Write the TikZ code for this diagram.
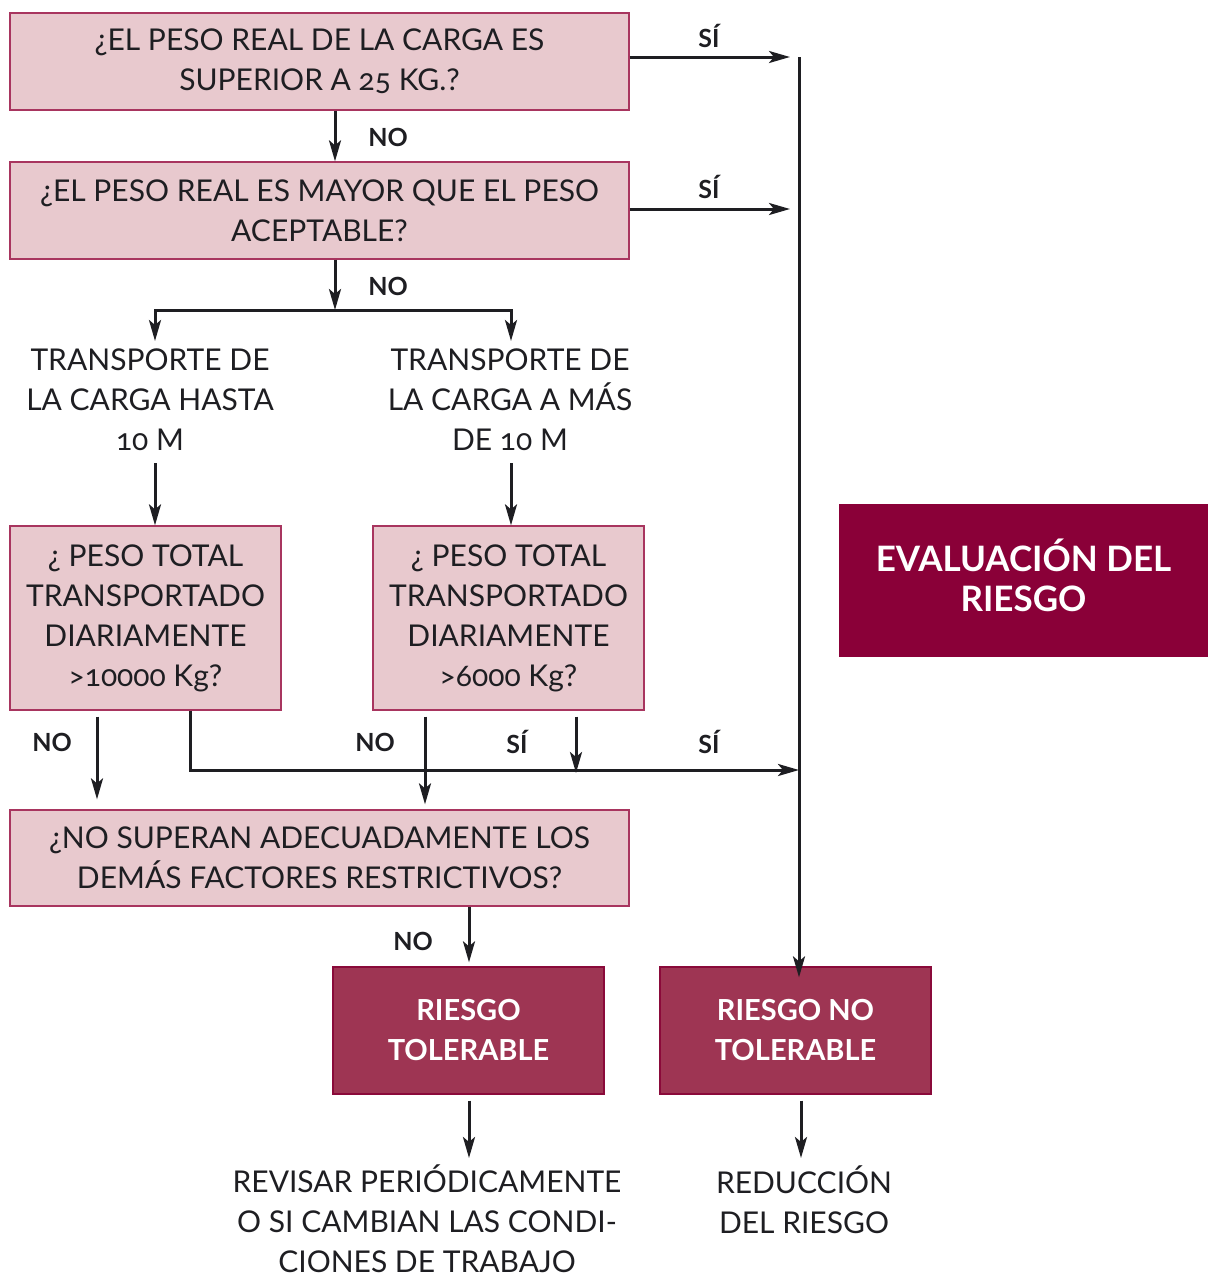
\documentclass[tikz,border=0pt]{standalone}
\usepackage{fontspec}
\setmainfont{Lato}[Numbers=OldStyle]
\usetikzlibrary{arrows.meta}
\definecolor{pinkfill}{HTML}{E8C9CE}
\definecolor{pinkline}{HTML}{A8355F}
\definecolor{darkfill}{HTML}{9E3553}
\definecolor{darkline}{HTML}{8A0A3A}
\definecolor{evalfill}{HTML}{8A0038}
\definecolor{ink}{HTML}{1E1E22}
\begin{document}
\begin{tikzpicture}[x=1pt,y=-1pt,
  qbox/.style={draw=pinkline, fill=pinkfill, line width=1.3pt, inner sep=0pt, align=center,
    text=ink, font=\fontsize{30}{40}\selectfont},
  rbox/.style={draw=darkline, fill=darkfill, line width=1.3pt, inner sep=0pt, align=center,
    text=white, font=\fontsize{29}{40}\selectfont\bfseries, minimum width=271pt, minimum height=127pt},
  plain/.style={inner sep=0pt, align=center, text=ink, font=\fontsize{30}{40}\selectfont},
  lbl/.style={inner sep=0pt, text=ink, font=\fontsize{25}{26}\selectfont\bfseries},
  arr/.style={draw=ink, line width=3pt, -{Stealth[length=21pt,width=12pt,inset=5pt]}},
  ln/.style={draw=ink, line width=3pt}]
\useasboundingbox (0,0) rectangle (1208,1278);

% boxes
\node[qbox, minimum width=619pt, minimum height=97pt] (b1) at (319.5,61.5) {¿EL PESO REAL DE LA CARGA ES\\SUPERIOR A 25 KG.?};
\node[qbox, minimum width=619pt, minimum height=97pt] (b2) at (319.5,210.5) {¿EL PESO REAL ES MAYOR QUE EL PESO\\ACEPTABLE?};
\node[plain] (t1) at (150,400) {TRANSPORTE DE\\LA CARGA HASTA\\10 M};
\node[plain] (t2) at (510,400) {TRANSPORTE DE\\LA CARGA A MÁS\\DE 10 M};
\node[qbox, minimum width=271pt, minimum height=184pt] (b3) at (145.5,618) {¿ PESO TOTAL\\TRANSPORTADO\\DIARIAMENTE\\>10000 Kg?};
\node[qbox, minimum width=271pt, minimum height=184pt] (b4) at (508.5,618) {¿ PESO TOTAL\\TRANSPORTADO\\DIARIAMENTE\\>6000 Kg?};
\node[qbox, minimum width=619pt, minimum height=96pt] (b5) at (319.5,858) {¿NO SUPERAN ADECUADAMENTE LOS\\DEMÁS FACTORES RESTRICTIVOS?};
\node[rbox] (b6) at (468.5,1030.5) {RIESGO\\TOLERABLE};
\node[rbox] (b7) at (795.5,1030.5) {RIESGO NO\\TOLERABLE};
\node[fill=evalfill, inner sep=0pt, minimum width=369pt, minimum height=153pt] (b8) at (1023.5,580.5) {};
\node[inner sep=0pt, align=center, text=white, font=\fontsize{35}{40}\selectfont\bfseries]
  (b8t) at ([yshift=5pt]b8.center) {EVALUACIÓN DEL\\RIESGO};
\node[plain] (t3) at (427,1218.5) {REVISAR PERIÓDICAMENTE\\O SI CAMBIAN LAS CONDI-\\CIONES DE TRABAJO};
\node[plain] (t4) at (804,1200) {REDUCCIÓN\\DEL RIESGO};

% labels
\node[lbl] (n1) at (388,137) {NO};
\node[lbl] (n2) at (388,286) {NO};
\node[lbl] (n3) at (52,742) {NO};
\node[lbl] (n4) at (375,742) {NO};
\node[lbl] (n5) at (413,941) {NO};
\node[lbl] (s1) at (709,36) {SÍ};
\node[lbl] (s2) at (709,187) {SÍ};
\node[lbl] (s3) at (517,742) {SÍ};
\node[lbl] (s4) at (709,742) {SÍ};

% coordinates
\coordinate (c1) at (335,0);
\coordinate (split) at (335,310);
\coordinate (sl) at (155,310);
\coordinate (sr) at (511,310);
\coordinate (tl) at (155,341);
\coordinate (tr) at (511,341);
\coordinate (ul) at (155,463);
\coordinate (ur) at (511,463);
\coordinate (vtop) at (799,57);
\coordinate (v2) at (799,209);
\coordinate (v3) at (799,770);
\coordinate (x97) at (97,0);
\coordinate (x190) at (190,0);
\coordinate (x425) at (425,0);
\coordinate (x576) at (576,0);
\coordinate (x469) at (469,0);
\coordinate (x801) at (801,0);
\coordinate (h576) at (576,773);
\coordinate (e6) at (469,1158);
\coordinate (e7) at (801,1158);

% connectors
\draw[arr] (b1.south -| c1) -- (b2.north -| c1);
\draw[arr] (b2.south -| c1) -- (split);
\draw[ln, line cap=rect] (sl) -- (sr);
\draw[arr] (sl) -- (tl);
\draw[arr] (sr) -- (tr);
\draw[arr] (b1.east |- vtop) -- ([xshift=-9pt]vtop);
\draw[arr] (b2.east |- v2) -- ([xshift=-9pt]v2);
\draw[arr] (vtop) -- ([yshift=-11pt]b7.north -| vtop);
\draw[arr] (ul) -- (b3.north -| ul);
\draw[arr] (ur) -- (b4.north -| ur);
\draw[arr, shorten <=6pt, shorten >=10pt] (b3.south -| x97) -- (b5.north -| x97);
\draw[arr] (b3.south -| x190) |- (v3);
\draw[arr, shorten <=6pt, shorten >=5pt] (b4.south -| x425) -- (b5.north -| x425);
\draw[arr, shorten <=6pt] (b4.south -| x576) -- (h576);
\draw[arr, shorten >=4pt] (b5.south -| x469) -- (b6.north -| x469);
\draw[arr, shorten <=6pt] (b6.south -| x469) -- (e6);
\draw[arr, shorten <=6pt] (b7.south -| x801) -- (e7);
\end{tikzpicture}
\end{document}
